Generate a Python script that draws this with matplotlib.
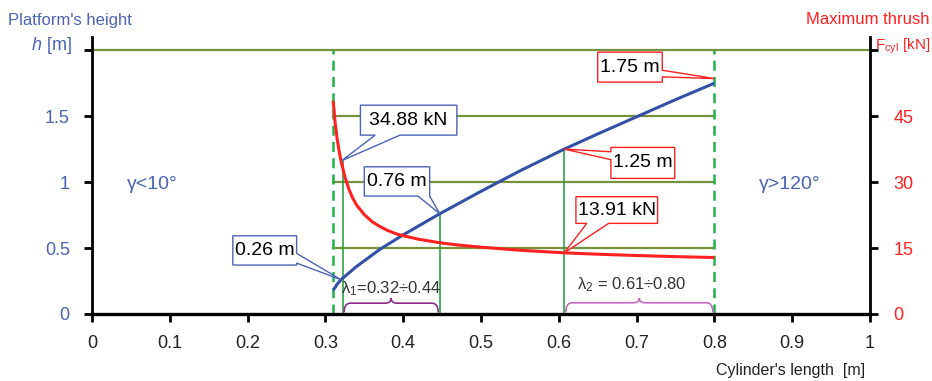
import numpy as np
import matplotlib
matplotlib.use('Agg')
from matplotlib import pyplot as plt
from matplotlib.patches import Polygon, PathPatch
from matplotlib.path import Path

plt.rcParams['mathtext.fontset'] = 'custom'
plt.rcParams['mathtext.rm'] = 'Liberation Sans'
plt.rcParams['mathtext.it'] = 'Liberation Sans:italic'

# platform height h [m] vs cylinder length
len_h = [0.31, 0.315, 0.32, 0.34, 0.37, 0.40, 0.447, 0.50, 0.55, 0.607, 0.65, 0.70, 0.75, 0.80]
h_m = [0.18, 0.225, 0.26, 0.36, 0.49, 0.60, 0.76, 0.93, 1.085, 1.25, 1.365, 1.495, 1.625, 1.75]

# maximum thrust F_cyl [kN] vs cylinder length
len_f = [0.31, 0.3125, 0.315, 0.3175, 0.32, 0.325, 0.33, 0.335, 0.34, 0.35, 0.36, 0.37,
         0.38, 0.39, 0.40, 0.42, 0.447, 0.47, 0.50, 0.55, 0.607, 0.65, 0.70, 0.75, 0.80]
f_kn = [48.5, 43.5, 40.0, 37.2, 34.88, 31.2, 28.5, 26.4, 24.8, 22.6, 21.0, 19.9,
        19.0, 18.3, 17.8, 17.0, 16.2, 15.7, 15.2, 14.5, 13.91, 13.6, 13.3, 13.05, 12.85]

x_ticks = [0, 0.1, 0.2, 0.3, 0.4, 0.5, 0.6, 0.7, 0.8, 0.9, 1]
x_ticklabels = ['0', '0.1', '0.2', '0.3', '0.4', '0.5', '0.6', '0.7', '0.8', '0.9', '1']
h_ticks = [0, 0.5, 1, 1.5, 2]
h_ticklabels = ['0', '0.5', '1', '1.5', '']
f_ticks = [0, 15, 30, 45, 60]
f_ticklabels = ['0', '15', '30', '45', '']

# working range limits and marked points
lim_lo, lim_hi = 0.31, 0.80
lam1 = (0.322, 0.447)
lam2 = (0.607, 0.80)
i_f34 = 4    # index of 34.88 kN in f_kn
i_f13 = 20   # index of 13.91 kN in f_kn
i_h026 = 2
i_h076 = 6
i_h125 = 9

BLUE = '#4a63b5'
CURVE_BLUE = '#3350a8'
RED = '#ff2020'
OLIVE = '#76923c'
GREEN = '#1e9a3c'
DASH = '#22b04a'
FONT = ['Liberation Sans', 'DejaVu Sans']
F_SCALE = 30.0  # kN per metre of height on the shared grid

fig = plt.figure(figsize=(9.32, 3.81), dpi=100)
ax = fig.add_axes([92 / 932, 1 - 314 / 381, (870 - 92) / 932, (314 - 37) / 381])
ax.set_xlim(0, 1)
ax.set_ylim(0, 2.1)
ax2 = ax.twinx()
ax2.set_ylim(0, 2.1 * F_SCALE)

ax.spines['top'].set_visible(False)
ax2.spines['top'].set_visible(False)
ax.spines['right'].set_visible(False)
ax2.spines['left'].set_visible(False)
ax2.spines['bottom'].set_visible(False)
ax.spines['left'].set_linewidth(2)
ax.spines['bottom'].set_linewidth(2.4)
ax2.spines['right'].set_linewidth(2)

ax.set_xticks(x_ticks)
ax.set_xticklabels(x_ticklabels, family=FONT, fontsize=13, color='#222222')
ax.set_yticks(h_ticks)
ax.set_yticklabels(h_ticklabels, family=FONT, fontsize=13, color=BLUE)
ax2.set_yticks(f_ticks)
ax2.set_yticklabels(f_ticklabels, family=FONT, fontsize=13, color=RED)
ax.tick_params(axis='x', direction='out', length=6, width=2, pad=9)
ax.tick_params(axis='y', direction='out', length=6, width=2, pad=10)
ax2.tick_params(axis='y', direction='out', length=6, width=2, pad=11)

# grid: full top line, the rest only inside the working range
ax.plot([0, 1], [2, 2], color=OLIVE, lw=1.6, zorder=1)
for yv in [0.5, 1, 1.5]:
    ax.plot([lim_lo, lim_hi], [yv, yv], color=OLIVE, lw=1.6, zorder=1)

for xv in [lim_lo, lim_hi]:
    ax.plot([xv, xv], [0, 2], color=DASH, lw=1.8, ls=(0, (4, 2.5)), zorder=2)

# vertical markers at the interval ends
ax.plot([lam1[0], lam1[0]], [0, f_kn[i_f34] / F_SCALE], color=GREEN, lw=1.1, zorder=2)
ax.plot([lam1[1], lam1[1]], [0, h_m[i_h076]], color=GREEN, lw=1.1, zorder=2)
ax.plot([lam2[0], lam2[0]], [0, h_m[i_h125]], color=GREEN, lw=1.1, zorder=2)

ax.plot(len_h, h_m, color=CURVE_BLUE, lw=2.2, zorder=3, solid_capstyle='butt')
ax2.plot(len_f, f_kn, color=RED, lw=2.2, zorder=3, solid_capstyle='butt')


def callout(box, edge, base, tip, text, ec):
    x0, x1, y0, y1 = box
    a, b = base
    if edge == 'bottom':
        pts = [(x0, y0), (a, y0), tip, (b, y0), (x1, y0), (x1, y1), (x0, y1)]
    elif edge == 'right':
        pts = [(x0, y0), (x1, y0), (x1, a), tip, (x1, b), (x1, y1), (x0, y1)]
    else:
        pts = [(x0, y0), (x1, y0), (x1, y1), (x0, y1), (x0, b), tip, (x0, a)]
    ax2.add_patch(Polygon(pts, closed=True, facecolor='white', edgecolor=ec,
                          lw=1.0, transform=ax.transData, zorder=5))
    ax2.text((x0 + x1) / 2, (y0 + y1) / 2, text, transform=ax.transData,
             ha='center', va='center', fontsize=14, family=FONT,
             color='black', zorder=6)


callout((0.345, 0.469, 1.356, 1.583), 'bottom', (0.364, 0.396),
        (0.321, f_kn[i_f34] / F_SCALE), '34.88 kN', BLUE)
callout((0.350, 0.434, 0.894, 1.116), 'bottom', (0.419, 0.434),
        (0.447, h_m[i_h076]), '0.76 m', BLUE)
callout((0.181, 0.263, 0.371, 0.593), 'right', (0.386, 0.46),
        (0.32, h_m[i_h026]), '0.26 m', BLUE)
callout((0.667, 0.749, 1.028, 1.263), 'left', (1.17, 1.23),
        (0.607, h_m[i_h125]), '1.25 m', RED)
callout((0.622, 0.727, 0.687, 0.889), 'bottom', (0.636, 0.664),
        (0.607, f_kn[i_f13] / F_SCALE), '13.91 kN', RED)
callout((0.650, 0.733, 1.758, 1.985), 'right', (1.798, 1.848),
        (0.8, 1.785), '1.75 m', RED)


def brace(x0, x1, yb, yl, yp, color):
    xm = (x0 + x1) / 2
    r = 0.008
    verts = [(x0, yb), (x0, yl), (x0 + r, yl),
             (xm - r, yl), (xm, yl), (xm, yp),
             (xm, yl), (xm + r, yl),
             (x1 - r, yl), (x1, yl), (x1, yb)]
    codes = [Path.MOVETO, Path.CURVE3, Path.CURVE3,
             Path.LINETO, Path.CURVE3, Path.CURVE3,
             Path.CURVE3, Path.CURVE3,
             Path.LINETO, Path.CURVE3, Path.CURVE3]
    ax.add_patch(PathPatch(Path(verts, codes), facecolor='none', edgecolor=color,
                           lw=1.2, zorder=3))


brace(lam1[0] + 0.002, lam1[1] - 0.002, 0.012, 0.082, 0.12, '#8e2a8e')
brace(lam2[0] + 0.002, lam2[1] - 0.002, 0.012, 0.085, 0.12, '#c46ac4')

ax.text(0.385, 0.19, 'λ$_1$=0.32÷0.44', ha='center', va='center', fontsize=12,
        family=FONT, color='#333333', zorder=4)
ax.text(0.694, 0.22, 'λ$_2$ = 0.61÷0.80', ha='center', va='center', fontsize=12,
        family=FONT, color='#333333', zorder=4)

ax.text(0.077, 0.98, 'γ<10°', ha='center', va='center', fontsize=14,
        family=FONT, color=BLUE)
ax.text(0.897, 0.98, 'γ>120°', ha='center', va='center', fontsize=14,
        family=FONT, color=BLUE)

# axis titles
fig.text(8 / 932, 1 - 20 / 381, "Platform's height", ha='left', va='center',
         fontsize=12, family=FONT, color=BLUE)
fig.text(72 / 932, 1 - 46 / 381, r'$h$ [m]', ha='right', va='center',
         fontsize=13, family=FONT, color=BLUE)
fig.text(930 / 932, 1 - 20 / 381, 'Maximum thrush', ha='right', va='center',
         fontsize=12, family=FONT, color=RED)
fig.text(930 / 932, 1 - 46 / 381, r'F$_{\mathrm{cyl}}$ [kN]', ha='right', va='center',
         fontsize=11, family=FONT, color=RED)
fig.text(865 / 932, 1 - 371 / 381, "Cylinder's length  [m]", ha='right', va='center',
         fontsize=11.5, family=FONT, color='#222222')

fig.savefig('out.png', dpi=100)
